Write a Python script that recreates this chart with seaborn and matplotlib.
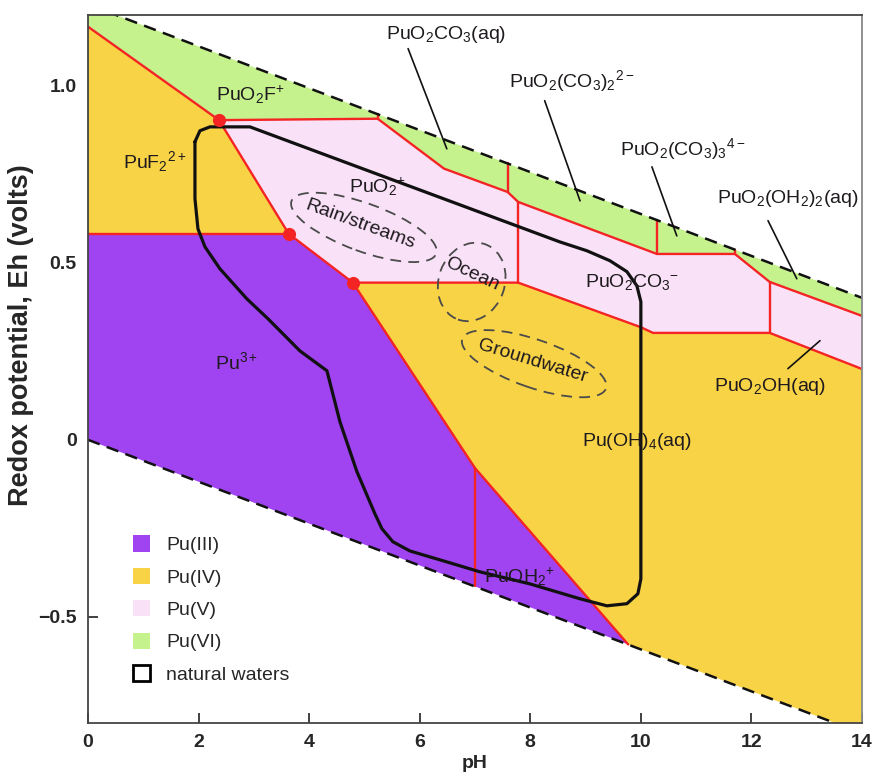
import numpy as np
import matplotlib
matplotlib.use("Agg")
import matplotlib.pyplot as plt
import matplotlib.transforms as mtransforms
from matplotlib.patches import Ellipse, Patch
import seaborn as sns

sns.set_theme(style="white")
plt.rcParams["font.family"] = ["Liberation Sans", "DejaVu Sans"]
plt.rcParams["mathtext.fontset"] = "custom"
plt.rcParams["mathtext.rm"] = "Liberation Sans"
plt.rcParams["mathtext.it"] = "Liberation Sans:italic"
plt.rcParams["mathtext.bf"] = "Liberation Sans:bold"

# ---- water stability limits (dashed) ----
water_ph = [0.0, 14.0]
upper_water_eh = [1.23, 0.401]
lower_water_eh = [0.0, -0.829]

# ---- phase boundaries ----
# lower edge of the Pu(VI) field
vi_ph = [0.0, 2.37, 5.24, 6.44, 7.59, 7.78, 10.29, 11.70, 12.33, 14.0]
vi_eh = [1.167, 0.903, 0.907, 0.766, 0.700, 0.672, 0.525, 0.525, 0.446, 0.350]
# Pu(V) / Pu(IV) lower edge
v_iv_ph = [4.79, 7.78, 10.00, 10.22, 12.33, 14.0]
v_iv_eh = [0.444, 0.444, 0.318, 0.302, 0.302, 0.200]
# Pu(III) / Pu(IV) (hydrolysed) edge
iii_iv_ph = [4.79, 7.00, 9.77]
iii_iv_eh = [0.444, -0.080, -0.578]
# triple points
triple_ph = [2.37, 3.63, 4.79]
triple_eh = [0.903, 0.582, 0.444]
# vertical species boundaries: pH, Eh bottom, Eh top
vert_ph = [5.24, 7.59, 7.78, 10.29, 11.70, 12.33, 7.00]
vert_lo = [0.907, 0.700, 0.444, 0.525, 0.525, 0.302, -0.414]
vert_hi = [0.921, 0.781, 0.672, 0.621, 0.537, 0.446, -0.080]

# ---- natural waters envelope ----
nw_ph = [1.935, 2.025, 2.206, 2.929, 8.535, 9.024, 9.439, 9.747, 9.928, 10.0,
         10.0, 9.946, 9.747, 9.385, 8.897, 7.993, 7.089, 6.492, 5.823, 5.515,
         5.316, 5.190, 4.864, 4.557, 4.322, 3.834, 3.255, 2.875, 2.387, 2.116,
         1.989, 1.935, 1.935]
nw_eh = [0.842, 0.873, 0.884, 0.884, 0.559, 0.534, 0.506, 0.475, 0.435, 0.390,
         -0.393, -0.435, -0.463, -0.469, -0.449, -0.407, -0.373, -0.345, -0.314, -0.288,
         -0.251, -0.209, -0.090, 0.051, 0.195, 0.251, 0.342, 0.398, 0.483, 0.545,
         0.596, 0.681, 0.842]

colors = {"Pu(III)": "#a044f2", "Pu(IV)": "#f9d346", "Pu(V)": "#f9e2f7", "Pu(VI)": "#c6f28e"}
red = "#f42424"

fig = plt.figure(figsize=(8.78, 7.77), dpi=100)
ax = fig.add_axes([0.1002, 0.0695, 0.8816, 0.9112])
ax.set_xlim(0, 14)
ax.set_ylim(-0.8, 1.2)

# ---- filled stability fields ----
green_x = vi_ph + [water_ph[1], water_ph[0]]
green_y = vi_eh + [upper_water_eh[1], upper_water_eh[0]]
ax.fill(green_x, green_y, color=colors["Pu(VI)"], lw=0, zorder=1)

pink_x = vi_ph[1:] + v_iv_ph[::-1] + [triple_ph[1]]
pink_y = vi_eh[1:] + v_iv_eh[::-1] + [triple_eh[1]]
ax.fill(pink_x, pink_y, color=colors["Pu(V)"], lw=0, zorder=1)

yl_x = [0.0, triple_ph[0], triple_ph[1], 0.0]
yl_y = [vi_eh[0], triple_eh[0], triple_eh[1], triple_eh[1]]
ax.fill(yl_x, yl_y, color=colors["Pu(IV)"], lw=0, zorder=1)

yr_x = v_iv_ph + [water_ph[1]] + iii_iv_ph[::-1]
yr_y = v_iv_eh + [lower_water_eh[1]] + iii_iv_eh[::-1]
ax.fill(yr_x, yr_y, color=colors["Pu(IV)"], lw=0, zorder=1)

pu_x = [0.0, triple_ph[1]] + iii_iv_ph + [water_ph[0]]
pu_y = [triple_eh[1], triple_eh[1]] + iii_iv_eh + [lower_water_eh[0]]
ax.fill(pu_x, pu_y, color=colors["Pu(III)"], lw=0, zorder=1)

# ---- red boundaries ----
rkw = dict(color=red, lw=1.7, zorder=3, solid_joinstyle="miter")
ax.plot(vi_ph, vi_eh, **rkw)
ax.plot(v_iv_ph, v_iv_eh, **rkw)
ax.plot(iii_iv_ph, iii_iv_eh, **rkw)
ax.plot(triple_ph, triple_eh, **rkw)
ax.plot([0.0, triple_ph[1]], [triple_eh[1], triple_eh[1]], **rkw)
for x, lo, hi in zip(vert_ph, vert_lo, vert_hi):
    ax.plot([x, x], [lo, hi], **rkw)

# ---- water limits ----
ax.plot(water_ph, upper_water_eh, color="#111111", lw=1.8, dashes=(5, 3), zorder=4)
ax.plot(water_ph, lower_water_eh, color="#111111", lw=1.8, dashes=(5, 3), zorder=4)

# ---- natural waters ----
sns.lineplot(x=nw_ph, y=nw_eh, sort=False, estimator=None, color="#111111",
             lw=2.3, ax=ax, zorder=5, solid_joinstyle="round")

ax.scatter(triple_ph, triple_eh, s=90, color=red, zorder=6, linewidths=0)

# ---- dashed water-type ellipses ----
def ring(cx, cy, w, h, ang):
    tr = fig.dpi_scale_trans + mtransforms.ScaledTranslation(cx, cy, ax.transData)
    ax.add_patch(Ellipse((0, 0), w / 100, h / 100, angle=ang, transform=tr,
                         fill=False, ec="#4a4a4a", lw=1.3, ls=(0, (6, 4)), zorder=6))

ring(4.99, 0.600, 154, 48, -20)
ring(6.94, 0.446, 66, 80, -20)
ring(8.07, 0.215, 152, 48, -19)

tc = "#1e1a1e"
ax.text(4.92, 0.607, "Rain/streams", rotation=-20, ha="center", va="center", fontsize=14, color=tc, zorder=7)
ax.text(6.95, 0.468, "Ocean", rotation=-25, ha="center", va="center", fontsize=14, color=tc, zorder=7)
ax.text(8.05, 0.223, "Groundwater", rotation=-17, ha="center", va="center", fontsize=14, color=tc, zorder=7)

# ---- species labels ----
labels = [
    (2.93, 0.975, r"PuO$_2$F$^{+}$"),
    (1.21, 0.785, r"PuF$_2$$^{2+}$"),
    (5.24, 0.715, r"PuO$_2$$^{+}$"),
    (6.47, 1.144, r"PuO$_2$CO$_3$(aq)"),
    (8.75, 1.014, r"PuO$_2$(CO$_3$)$_2$$^{2-}$"),
    (10.76, 0.822, r"PuO$_2$(CO$_3$)$_3$$^{4-}$"),
    (12.66, 0.681, r"PuO$_2$(OH$_2$)$_2$(aq)"),
    (12.33, 0.150, r"PuO$_2$OH(aq)"),
    (9.84, 0.446, r"PuO$_2$CO$_3$$^{-}$"),
    (2.69, 0.220, r"Pu$^{3+}$"),
    (9.93, -0.006, r"Pu(OH)$_4$(aq)"),
    (7.81, -0.387, r"PuOH$_2$$^{+}$"),
]
for x, y, s in labels:
    ax.text(x, y, s, ha="center", va="center", fontsize=14, color=tc, zorder=7)

leaders = [
    ((5.79, 1.105), (6.49, 0.822)),
    ((8.26, 0.958), (8.90, 0.675)),
    ((10.20, 0.771), (10.65, 0.576)),
    ((12.30, 0.619), (12.82, 0.455)),
    ((13.24, 0.280), (12.66, 0.201)),
]
for (x0, y0), (x1, y1) in leaders:
    ax.plot([x0, x1], [y0, y1], color="#111111", lw=1.2, zorder=7)

# ---- axes styling ----
ax.set_xticks(range(0, 15, 2))
ax.set_yticks([-0.5, 0.0, 0.5, 1.0])
ax.set_yticklabels(["\u22120.5", "0", "0.5", "1.0"])
ax.tick_params(direction="in", length=7, width=1.3, color="#333333",
               labelsize=14, pad=8, left=True, bottom=True)
for lab in ax.get_xticklabels() + ax.get_yticklabels():
    lab.set_fontweight("bold")
for side, c in [("left", "#444444"), ("bottom", "#444444"), ("top", "#444444"), ("right", "#888888")]:
    ax.spines[side].set_color(c)
    ax.spines[side].set_linewidth(1.3)
    ax.spines[side].set_zorder(8)
ax.set_xlabel("pH", fontsize=14, fontweight="bold", labelpad=3)
ax.set_ylabel("Redox potential, Eh (volts)", fontsize=19.5, fontweight="bold")
ax.yaxis.set_label_coords(-0.070, 0.548)

handles = [Patch(facecolor=colors[k], edgecolor="none", label=k) for k in colors]
handles.append(Patch(facecolor="white", edgecolor="black", lw=2, label="natural waters"))
ax.legend(handles=handles, loc="upper left", bbox_to_anchor=(0.058, 0.265),
          frameon=False, fontsize=14, handlelength=0.9, handleheight=0.9,
          handletextpad=0.8, labelspacing=0.70, borderpad=0, borderaxespad=0)

fig.savefig("out.png", dpi=100)
